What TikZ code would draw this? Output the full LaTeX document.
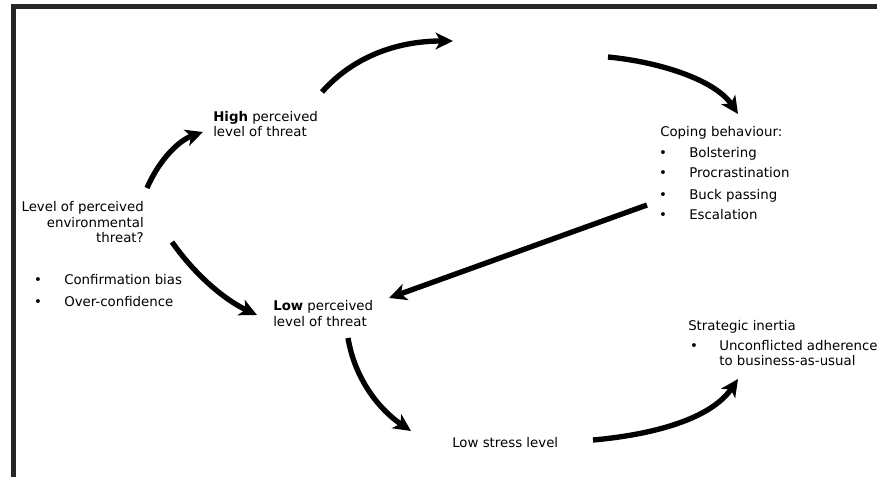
\documentclass[tikz,border=0pt]{standalone}
\usepackage{fontspec}
\setmainfont{DejaVu Sans}
\usetikzlibrary{arrows.meta}

\begin{document}
\begin{tikzpicture}[x=0.75pt,y=-0.75pt,font=\fontsize{10}{11.5}\selectfont]
    \tikzstyle{frame}=[line width=3.75pt,draw=black!85,line join=miter]
    \tikzstyle{flow}=[line width=4pt,-{Stealth[length=13pt,width=12.5pt,inset=3.5pt]}]
    \tikzstyle{label}=[inner sep=0pt,anchor=base west,align=left]
    \tikzstyle{dot}=[inner sep=0pt,anchor=base]

    \useasboundingbox (0,0) rectangle (877,477);

    % Draw the frame
    \draw[frame] (13.5,477) -- (13.5,6.5) -- (877,6.5);

    % Draw the text nodes (base = last line)
    \node[label,anchor=base east,align=right] (level) at (144,242.5) {Level of perceived\\environmental\\threat?};
    \node[label] (high) at (213,137) {\textbf{High} perceived\\level of threat};
    \node[label] (low) at (273,326) {\textbf{Low} perceived\\level of threat};
    \node[label] (stress) at (452,447.5) {Low stress level};
    \node[label] (coping) at (660,136.5) {Coping behaviour:};
    \node[label] (inertia) at (688,330.5) {Strategic inertia};

    % Draw the bullet lists
    \foreach \name / \y in {Confirmation bias/284.5, Over-confidence/306}
        \path node[dot] at (38,\y) {\textbullet}
              node[label] at (64,\y) {\name};

    \foreach \name / \y in {Bolstering/157.5, Procrastination/177.5, Buck passing/199.5, Escalation/219.5}
        \path node[dot] at (663,\y) {\textbullet}
              node[label] at (689,\y) {\name};

    \path node[dot] at (694,350) {\textbullet}
          node[label] (adherence) at (719,365.5) {Unconflicted adherence\\to business-as-usual};

    % Arrow ends
    \coordinate (l-up) at (147,188);
    \coordinate (h-in) at (203,132);
    \coordinate (h-out) at (322,92);
    \coordinate (top-in) at (453,41);
    \coordinate (top-out) at (608,57);
    \coordinate (c-in) at (738,114);
    \coordinate (c-out) at (647,205);
    \coordinate (lo-back) at (389,298);
    \coordinate (l-down) at (172,242);
    \coordinate (lo-in) at (257,315);
    \coordinate (lo-out) at (348,338);
    \coordinate (s-in) at (411,431);
    \coordinate (s-out) at (593,440);
    \coordinate (i-in) at (738,379);

    % Draw the arrows
    \draw[flow] (l-up) .. controls (160,158) and (180,140) .. (h-in);
    \draw[flow] (h-out) .. controls (352,58) and (395,41) .. (top-in);
    \draw[flow] (top-out) .. controls (660,62) and (715,80) .. (c-in);
    \draw[flow] (c-out) -- (lo-back);
    \draw[flow] (l-down) .. controls (195,275) and (225,300) .. (lo-in);
    \draw[flow] (lo-out) .. controls (355,380) and (380,410) .. (s-in);
    \draw[flow] (s-out) .. controls (650,435) and (710,420) .. (i-in);
\end{tikzpicture}
\end{document}
